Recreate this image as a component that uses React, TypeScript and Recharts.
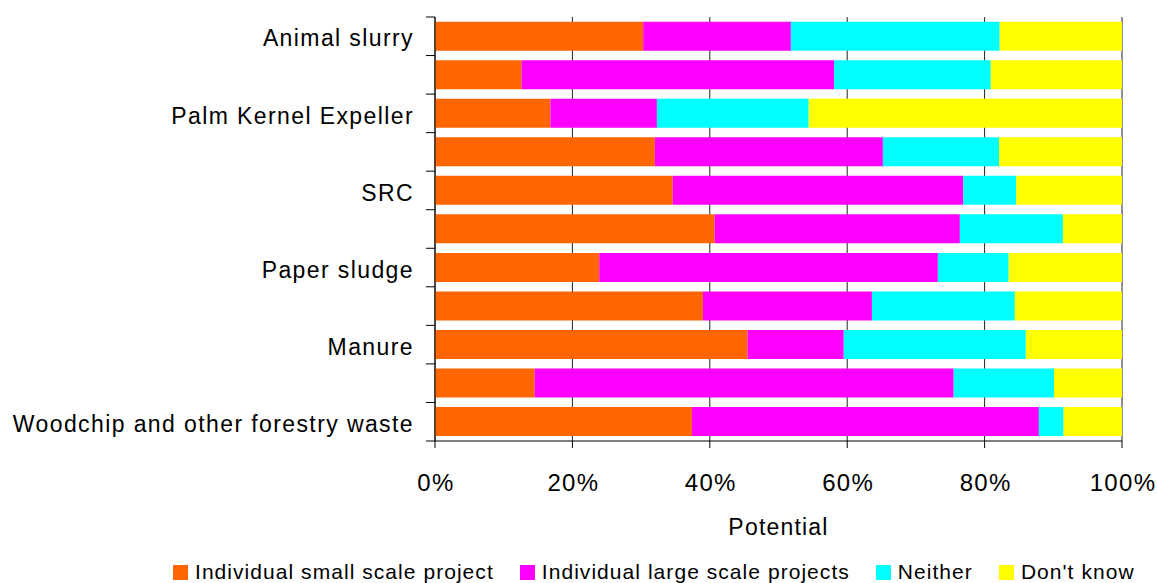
import { Bar, BarChart, CartesianGrid, Legend, XAxis, YAxis } from "recharts";

const categories = [
  "Animal slurry",
  "",
  "Palm Kernel Expeller",
  "",
  "SRC",
  "",
  "Paper sludge",
  "",
  "Manure",
  "",
  "Woodchip and other forestry waste",
];

const smallScale = [30.3, 12.6, 16.8, 32.0, 34.6, 40.7, 23.9, 39.0, 45.5, 14.5, 37.4];
const largeScale = [21.5, 45.5, 15.5, 33.2, 42.3, 35.7, 49.3, 24.6, 14.0, 61.0, 50.5];
const neither = [30.4, 22.8, 22.1, 16.9, 7.7, 15.0, 10.3, 20.8, 26.5, 14.6, 3.6];
const dontKnow = [17.8, 19.1, 45.6, 17.9, 15.4, 8.6, 16.5, 15.6, 14.0, 9.9, 8.5];

const xTicks = [0, 0.2, 0.4, 0.6, 0.8, 1];

const series = [
  { key: "small", name: "Individual small scale project", color: "#FF6600" },
  { key: "large", name: "Individual large scale projects", color: "#FF00FF" },
  { key: "neither", name: "Neither", color: "#00FFFF" },
  { key: "dontKnow", name: "Don't know", color: "#FFFF00" },
];

const data = categories.map((name, i) => ({
  id: i,
  name,
  small: smallScale[i],
  large: largeScale[i],
  neither: neither[i],
  dontKnow: dontKnow[i],
}));

const FONT = "'Liberation Sans', Arial, sans-serif";
const PLOT_TOP = 17;
const PLOT_BOTTOM = 441;
const AXIS_X = 435;
const BAND = (PLOT_BOTTOM - PLOT_TOP) / categories.length;

function CategoryTick(props: any) {
  const { y, index } = props;
  const label = categories[index];
  return (
    <g>
      <line x1={AXIS_X - 9} x2={AXIS_X} y1={y - BAND / 2} y2={y - BAND / 2} stroke="#000" />
      {index === categories.length - 1 && (
        <line x1={AXIS_X - 9} x2={AXIS_X} y1={y + BAND / 2} y2={y + BAND / 2} stroke="#000" />
      )}
      <text
        x={AXIS_X - 21}
        y={y + 2}
        dy="0.355em"
        textAnchor="end"
        fontSize={23}
        fontFamily={FONT}
        fill="#000"
        style={{ letterSpacing: 1.4 }}
      >
        {label}
      </text>
    </g>
  );
}

function PercentTick(props: any) {
  const { x, y, payload } = props;
  return (
    <text
      x={x + 1}
      y={y}
      dy="0.71em"
      textAnchor="middle"
      fontSize={24}
      fontFamily={FONT}
      fill="#000"
      style={{ letterSpacing: 1.3 }}
    >
      {`${Math.round(payload.value * 100)}%`}
    </text>
  );
}

function LegendContent() {
  return (
    <div
      style={{
        display: "flex",
        alignItems: "center",
        height: 30,
        width: 980,
        whiteSpace: "nowrap",
        fontFamily: FONT,
        fontSize: 21,
        letterSpacing: 1.05,
        color: "#000",
        position: "relative",
        top: 4,
      }}
    >
      {series.map((s) => (
        <div key={s.key} style={{ display: "flex", alignItems: "center", marginRight: 26, flexShrink: 0 }}>
          <span style={{ display: "inline-block", width: 15, height: 15, background: s.color, marginRight: 7 }} />
          <span>{s.name}</span>
        </div>
      ))}
    </div>
  );
}

export default function App() {
  return (
    <div style={{ position: "absolute", left: 0, top: 0, background: "#fff" }}>
      <BarChart
        width={1157}
        height={583}
        data={data}
        layout="vertical"
        stackOffset="expand"
        barCategoryGap="12%"
        margin={{ top: PLOT_TOP, right: 35, left: 0, bottom: 0 }}
      >
        <CartesianGrid horizontal={false} stroke="#222" strokeOpacity={1} />
        <XAxis
          type="number"
          domain={[0, 1]}
          ticks={xTicks}
          tickSize={7}
          tickMargin={26}
          height={112}
          stroke="#000"
          tick={<PercentTick />}
          label={{
            value: "Potential",
            position: "insideBottom",
            offset: 18,
            fill: "#000",
            fontSize: 23,
            fontFamily: FONT,
            style: { letterSpacing: 1.2 },
          }}
        />
        <XAxis
          xAxisId="top"
          orientation="top"
          type="number"
          domain={[0, 1]}
          height={0}
          tick={false}
          tickLine={false}
          stroke="#333"
        />
        <YAxis
          type="category"
          dataKey="id"
          width={AXIS_X}
          stroke="#000"
          tickLine={false}
          interval={0}
          tick={<CategoryTick />}
        />
        <Legend
          verticalAlign="bottom"
          content={<LegendContent />}
          wrapperStyle={{ left: 173, width: 980, bottom: 0 }}
        />
        {series.map((s) => (
          <Bar key={s.key} dataKey={s.key} name={s.name} stackId="a" fill={s.color} isAnimationActive={false} />
        ))}
      </BarChart>
    </div>
  );
}
